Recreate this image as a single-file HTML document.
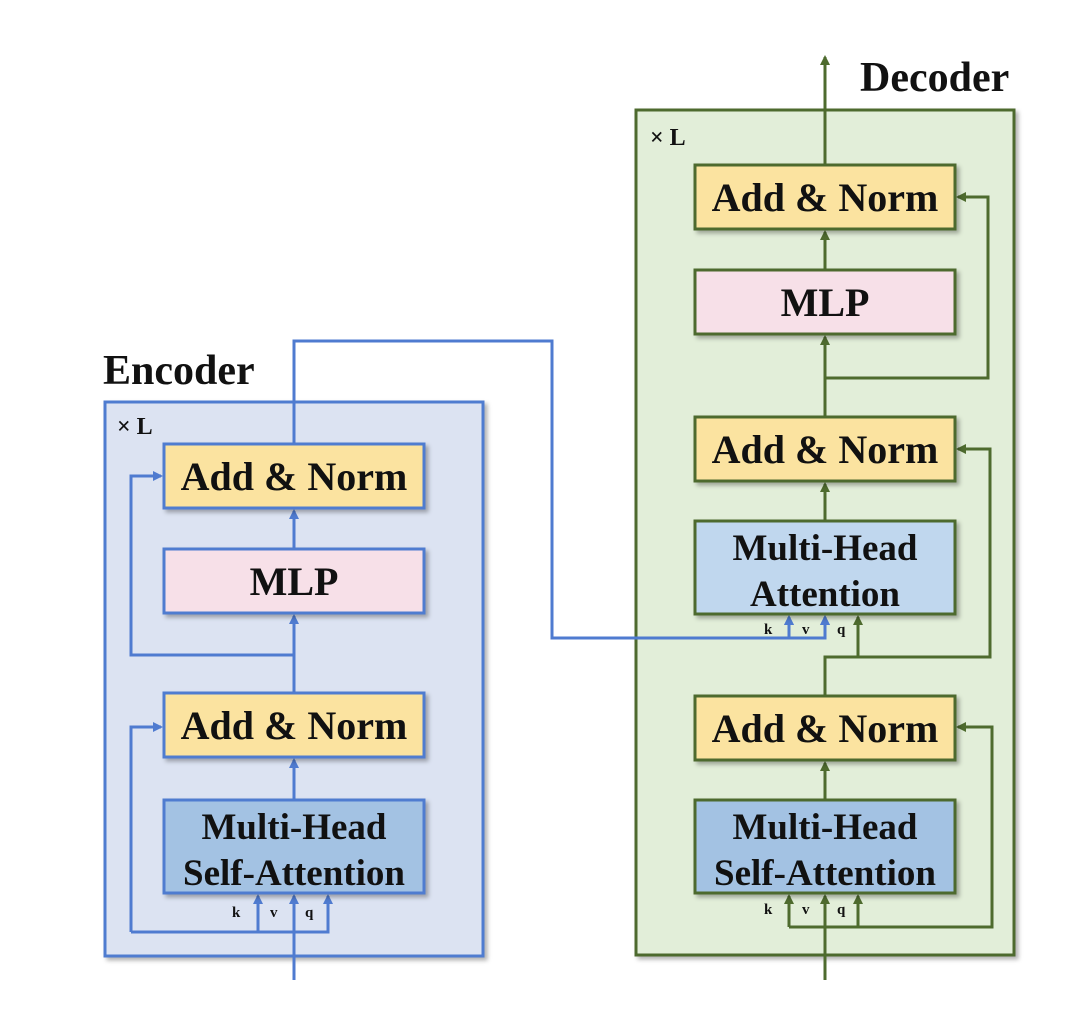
<!DOCTYPE html>
<html><head><meta charset="utf-8"><style>
html,body{margin:0;padding:0;background:#fff;}
svg{display:block;}
text{font-family:"Liberation Serif",serif;font-weight:bold;fill:#111;}
</style></head><body>
<svg width="1080" height="1021" viewBox="0 0 1080 1021" xmlns="http://www.w3.org/2000/svg">
<defs>
<marker id="ab" markerWidth="10" markerHeight="10" refX="8" refY="5" orient="auto" markerUnits="userSpaceOnUse"><path d="M0,0 L10,5 L0,10 z" fill="#4f7bd0"/></marker>
<marker id="ag" markerWidth="10" markerHeight="10" refX="8" refY="5" orient="auto" markerUnits="userSpaceOnUse"><path d="M0,0 L10,5 L0,10 z" fill="#4e6b2e"/></marker>
<filter id="sh" x="-5%" y="-5%" width="115%" height="120%"><feDropShadow dx="3" dy="3" stdDeviation="2" flood-color="#000" flood-opacity="0.3"/></filter>
</defs>

<!-- Encoder -->
<text x="103" y="384" font-size="42">Encoder</text>
<rect x="105" y="402" width="378" height="554" fill="#dce3f2" stroke="#4f7bd0" stroke-width="3" filter="url(#sh)"/>
<text x="117" y="434" font-size="24">× L</text>

<!-- Decoder box -->
<text x="860" y="91" font-size="42">Decoder</text>
<rect x="636" y="110" width="378" height="845" fill="#e2eed9" stroke="#4e6b2e" stroke-width="3" filter="url(#sh)"/>
<text x="650" y="145" font-size="24">× L</text>

<g stroke="#4f7bd0" stroke-width="3" fill="none">
<path d="M294 980 V896" marker-end="url(#ab)"/>
<path d="M131 932 H328 V896" marker-end="url(#ab)"/>
<path d="M258 932 V896" marker-end="url(#ab)"/>
<path d="M131 932 V727 H161" marker-end="url(#ab)"/>
<path d="M294 800 V760" marker-end="url(#ab)"/>
<path d="M294 693 V616" marker-end="url(#ab)"/>
<path d="M294 655 H131 V476 H161" marker-end="url(#ab)"/>
<path d="M294 549 V511" marker-end="url(#ab)"/>
<path d="M294 444 V341 H552 V638 H825 V617" marker-end="url(#ab)"/>
<path d="M789 638 V617" marker-end="url(#ab)"/>
</g>
<g stroke="#4f7bd0" stroke-width="3" filter="url(#sh)">
<rect x="164" y="444" width="260" height="64" fill="#fbe3a0"/>
<rect x="164" y="549" width="260" height="64" fill="#f7e0e8"/>
<rect x="164" y="693" width="260" height="64" fill="#fbe3a0"/>
<rect x="164" y="800" width="260" height="93" fill="#a3c2e3"/>
</g>
<text x="294" y="490" font-size="40" text-anchor="middle">Add &amp; Norm</text>
<text x="294" y="595" font-size="40" text-anchor="middle">MLP</text>
<text x="294" y="739" font-size="40" text-anchor="middle">Add &amp; Norm</text>
<text x="294" y="839" font-size="37" text-anchor="middle">Multi-Head</text>
<text x="294" y="885" font-size="37" text-anchor="middle">Self-Attention</text>
<text x="232" y="917" font-size="15">k</text>
<text x="270" y="917" font-size="15">v</text>
<text x="305" y="917" font-size="15">q</text>

<g stroke="#4e6b2e" stroke-width="3" fill="none">
<path d="M825 980 V896" marker-end="url(#ag)"/>
<path d="M789 927 H992 V727 H958" marker-end="url(#ag)"/>
<path d="M789 927 V896" marker-end="url(#ag)"/>
<path d="M858 927 V896" marker-end="url(#ag)"/>
<path d="M825 800 V763" marker-end="url(#ag)"/>
<path d="M825 696 V657 H990 V449 H958" marker-end="url(#ag)"/>
<path d="M858 657 V617" marker-end="url(#ag)"/>
<path d="M825 521 V484" marker-end="url(#ag)"/>
<path d="M825 417 V337" marker-end="url(#ag)"/>
<path d="M825 378 H988 V197 H958" marker-end="url(#ag)"/>
<path d="M825 270 V232" marker-end="url(#ag)"/>
<path d="M825 165 V57" marker-end="url(#ag)"/>
</g>
<g stroke="#4f7bd0" stroke-width="3" fill="none">
<path d="M552 638 H825 V617" marker-end="url(#ab)"/>
<path d="M789 638 V617" marker-end="url(#ab)"/>
</g>
<g stroke="#4e6b2e" stroke-width="3" filter="url(#sh)">
<rect x="695" y="165" width="260" height="64" fill="#fbe3a0"/>
<rect x="695" y="270" width="260" height="64" fill="#f7e0e8"/>
<rect x="695" y="417" width="260" height="64" fill="#fbe3a0"/>
<rect x="695" y="521" width="260" height="93" fill="#c0d7ee"/>
<rect x="695" y="696" width="260" height="64" fill="#fbe3a0"/>
<rect x="695" y="800" width="260" height="93" fill="#a3c2e3"/>
</g>
<text x="825" y="211" font-size="40" text-anchor="middle">Add &amp; Norm</text>
<text x="825" y="316" font-size="40" text-anchor="middle">MLP</text>
<text x="825" y="463" font-size="40" text-anchor="middle">Add &amp; Norm</text>
<text x="825" y="560" font-size="37" text-anchor="middle">Multi-Head</text>
<text x="825" y="606" font-size="37" text-anchor="middle">Attention</text>
<text x="825" y="742" font-size="40" text-anchor="middle">Add &amp; Norm</text>
<text x="825" y="839" font-size="37" text-anchor="middle">Multi-Head</text>
<text x="825" y="885" font-size="37" text-anchor="middle">Self-Attention</text>
<text x="764" y="634" font-size="15">k</text>
<text x="802" y="634" font-size="15">v</text>
<text x="837" y="634" font-size="15">q</text>
<text x="764" y="914" font-size="15">k</text>
<text x="802" y="914" font-size="15">v</text>
<text x="837" y="914" font-size="15">q</text>
</svg>
</body></html>
